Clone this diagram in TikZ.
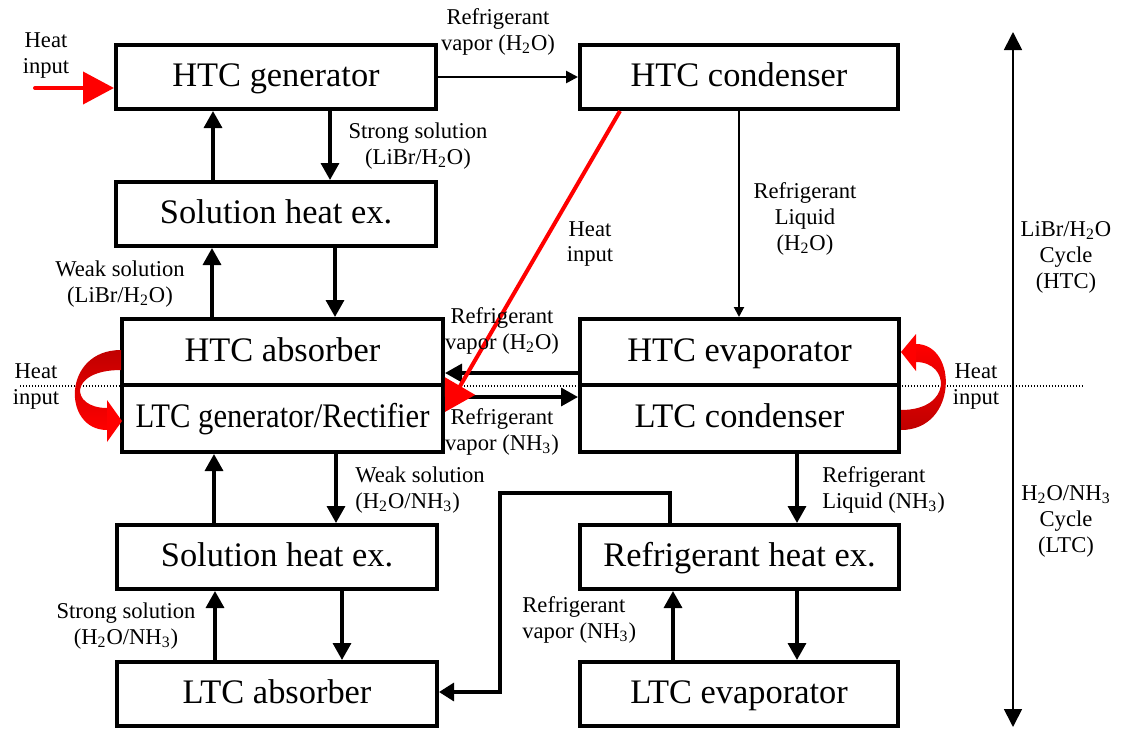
\documentclass[tikz,border=0pt]{standalone}
\usepackage{fontspec}
\usepackage{graphicx}
\setmainfont{Liberation Serif}
\usetikzlibrary{arrows.meta}
\definecolor{darkheat}{HTML}{C00000}
\newcommand{\HtwoO}{H\textsubscript{2}O}
\newcommand{\NHthree}{NH\textsubscript{3}}
\begin{document}
\begin{tikzpicture}[x=0.5pt,y=-0.5pt,
  box/.style={draw, line width=2pt, inner sep=0pt, text height=12pt, text depth=3pt,
    font=\fontsize{17.2}{20}\selectfont},
  lbl/.style={inner sep=0pt, align=center, font=\fontsize{11.3}{13}\selectfont},
  lbll/.style={lbl, align=left, anchor=west},
  flow/.style={line width=1.7pt, -{Triangle[length=8.5pt,width=9pt]}},
  flowsm/.style={line width=1.3pt, -{Triangle[length=6pt,width=6pt]}},
  thinflow/.style={line width=1pt, -{Triangle[length=5pt,width=5pt]}},
  loopflow/.style={line width=1.6pt, -{Triangle[length=7.5pt,width=9pt]}},
  cyclearrow/.style={line width=0.85pt, {Triangle[length=9pt,width=9pt]}-{Triangle[length=9pt,width=9pt]}},
  heatline/.style={red, line width=2pt, -{Triangle[length=15pt,width=17pt]}},
  dotline/.style={line width=0.6pt, dash pattern=on 0.6pt off 0.9pt},
]
\useasboundingbox (0,0) rectangle (1126,729);

% boundary between the two cycles
\coordinate (dl) at (20,386);
\coordinate (dr) at (1083,386);
\draw[dotline] (dl) -- (dr);

% components
\node[box, minimum width=160pt, minimum height=32pt] (hg) at (276,77) {HTC generator};
\node[box, minimum width=159pt, minimum height=32pt] (hc) at (739,77) {HTC condenser};
\node[box, minimum width=160pt, minimum height=32pt] (sh1) at (276,214) {Solution heat ex.};
\node[box, minimum width=160.5pt, minimum height=33pt] (habs) at (282.5,352) {HTC absorber};
\node[box, minimum width=160.5pt, minimum height=33.5pt] (lgen) at (282.5,418.5) {\scalebox{0.89}[1]{LTC generator/Rectifier}};
\node[box, minimum width=159.5pt, minimum height=33pt] (hev) at (739.5,352) {HTC evaporator};
\node[box, minimum width=159.5pt, minimum height=33.5pt] (lcon) at (739.5,418.5) {LTC condenser};
\node[box, minimum width=160pt, minimum height=32pt] (sh2) at (277,557) {Solution heat ex.};
\node[box, minimum width=159.5pt, minimum height=32pt] (rhx) at (739.5,557) {Refrigerant heat ex.};
\node[box, minimum width=160pt, minimum height=32pt] (labs) at (277,694) {LTC absorber};
\node[box, minimum width=159pt, minimum height=32pt] (lev) at (739,694) {LTC evaporator};

% HTC (LiBr/H2O) loop
\draw[flowsm] (hg.east) -- (hc.west);
\draw[flow] ([xshift=27pt]hg.south) -- ([xshift=27pt]sh1.north);
\draw[flow] ([xshift=-31.5pt]sh1.north) -- ([xshift=-31.5pt]hg.south);
\draw[flow] ([xshift=29.5pt]sh1.south) -- ([xshift=26.25pt]habs.north);
\draw[flow] ([xshift=-35.25pt]habs.north) -- ([xshift=-32pt]sh1.south);
\draw[thinflow] (hc.south) -- ([xshift=-0.25pt]hev.north);
\draw[flow] ([yshift=-10.5pt]hev.west) -- ([yshift=-10.5pt]habs.east);

% LTC (H2O/NH3) loop
\draw[flow] ([yshift=10.75pt]lgen.east) -- ([yshift=10.75pt]lcon.west);
\draw[flow] ([xshift=26.75pt]lgen.south) -- ([xshift=29.5pt]sh2.north);
\draw[flow] ([xshift=-31.5pt]sh2.north) -- ([xshift=-34.25pt]lgen.south);
\draw[flow] ([xshift=32.5pt]sh2.south) -- ([xshift=32.5pt]labs.north);
\draw[flow] ([xshift=-31pt]labs.north) -- ([xshift=-31pt]sh2.south);
\draw[flow] ([xshift=28.75pt]lcon.south) -- ([xshift=28.75pt]rhx.north);
\draw[flow] ([xshift=28.75pt]rhx.south) -- ([xshift=29pt]lev.north);
\draw[flow] ([xshift=-33pt]lev.north) -- ([xshift=-33.25pt]rhx.south);
\coordinate (jb) at (500,493);
\draw[loopflow] ([xshift=-34.75pt]rhx.north) |- (jb) |- ([yshift=1pt]labs.east);

% heat inputs
\coordinate (hin) at (35,88);
\draw[red, line width=2pt, line cap=round, -{Triangle[length=15.5pt,width=16pt]}] (hin) -- (hg.west |- hin);
\draw[heatline] ([xshift=-59.5pt]hc.south) -- ([yshift=-14.5pt]lgen.north east);

\shade[top color=darkheat, bottom color=red]
  (121,350) .. controls (62,350) and (62,430) .. (107,430)
  -- (107,408) .. controls (70,408) and (68,370) .. (121,370) -- cycle;
\fill[red] (107,400) -- (122,421) -- (107,442) -- cycle;

\shade[top color=red, bottom color=darkheat]
  (901,430) .. controls (958,430) and (958,344) .. (916,344)
  -- (916,362) .. controls (950,362) and (953,410) .. (901,410) -- cycle;
\fill[red] (916,334) -- (901,352) -- (916,371) -- cycle;

% cycle extent marker
\coordinate (ctop) at (1013,32);
\coordinate (cbot) at (1013,727);
\draw[cyclearrow] (ctop) -- (cbot);

% stream labels
\node[lbl] at (498,32) {Refrigerant\\vapor (\HtwoO)};
\node[lbl] at (418,146) {Strong solution\\(LiBr/\HtwoO)};
\node[lbl] at (805,219) {Refrigerant\\Liquid\\(\HtwoO)};
\node[lbl] at (590,244) {Heat\\input};
\node[lbl] at (120,284) {Weak solution\\(LiBr/\HtwoO)};
\node[lbl] at (502,331) {Refrigerant\\vapor (\HtwoO)};
\node[lbl] at (502,432) {Refrigerant\\vapor (\NHthree)};
\node[lbll] at (355,490) {Weak solution\\(\HtwoO/\NHthree)};
\node[lbll] at (822,490) {Refrigerant\\Liquid (\NHthree)};
\node[lbl] at (126,626) {Strong solution\\(\HtwoO/\NHthree)};
\node[lbll] at (522,620) {Refrigerant\\vapor (\NHthree)};
\node[lbl] at (46,56) {Heat\\input};
\node[lbl] at (36,386) {Heat\\input};
\node[lbl] at (976,386) {Heat\\input};
\node[lbl] at (1066,257) {LiBr/\HtwoO\\Cycle\\(HTC)};
\node[lbl] at (1066,521) {\HtwoO/\NHthree\\Cycle\\(LTC)};
\end{tikzpicture}
\end{document}
